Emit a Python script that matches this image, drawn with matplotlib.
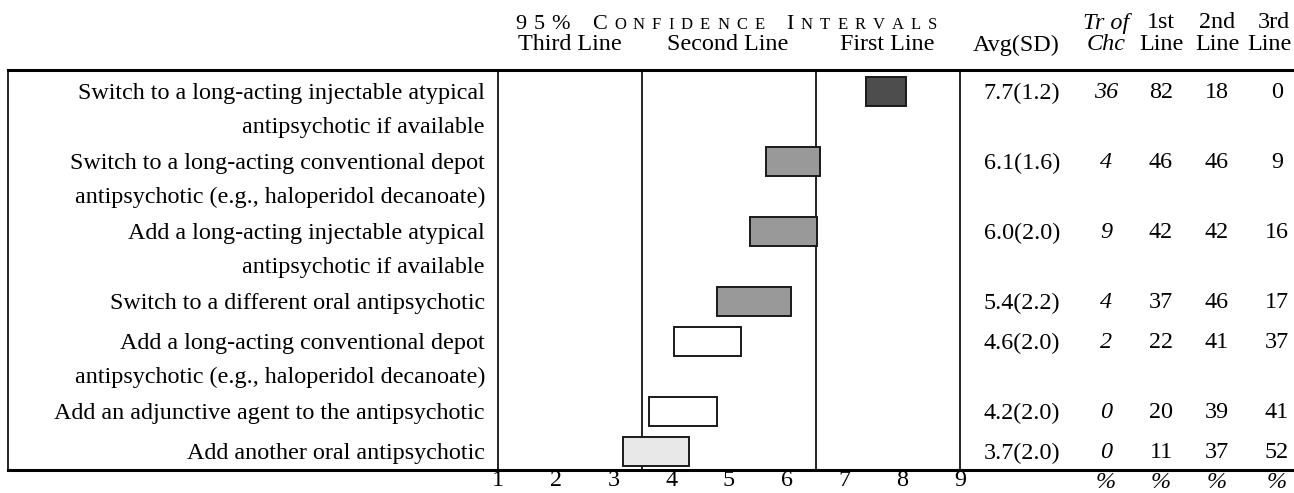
import numpy as np
import matplotlib
matplotlib.use('Agg')
from matplotlib import pyplot as plt
from matplotlib import transforms
from matplotlib.lines import Line2D

plt.rcParams['font.family'] = ['Liberation Serif', 'DejaVu Serif']

# rows of the table, label split in the printed lines
labels = [
    ["Switch to a long-acting injectable atypical", "antipsychotic if available"],
    ["Switch to a long-acting conventional depot", "antipsychotic (e.g., haloperidol decanoate)"],
    ["Add a long-acting injectable atypical", "antipsychotic if available"],
    ["Switch to a different oral antipsychotic"],
    ["Add a long-acting conventional depot", "antipsychotic (e.g., haloperidol decanoate)"],
    ["Add an adjunctive agent to the antipsychotic"],
    ["Add another oral antipsychotic"],
]
ci_low = [7.38, 5.64, 5.37, 4.79, 4.05, 3.61, 3.17]
ci_high = [8.07, 6.57, 6.53, 6.07, 5.21, 4.79, 4.31]
avg_sd = ["7.7(1.2)", "6.1(1.6)", "6.0(2.0)", "5.4(2.2)", "4.6(2.0)", "4.2(2.0)", "3.7(2.0)"]
tr_of_chc = [36, 4, 9, 4, 2, 0, 0]
first_line = [82, 46, 42, 37, 22, 20, 11]
second_line = [18, 46, 42, 46, 41, 39, 37]
third_line = [0, 9, 16, 17, 37, 41, 52]
bar_colors = ['#4d4d4d', '#999999', '#999999', '#999999', 'white', 'white', '#e8e8e8']

W, H = 1294, 493
fs = 17.4

fig = plt.figure(figsize=(W / 100, H / 100), dpi=100)
ax = fig.add_axes([497.8 / W, (H - 470) / H, (960 - 497.8) / W, 400 / H])
ax.set_xlim(1, 9)
ax.set_ylim(470, 70)  # y runs in pixel rows from the top

# row positions: 2-line rows take more room
row_y = []
y = 91
for lab in labels:
    row_y.append(y)
    y += 30 * len(lab) + 10

ax.barh(row_y, np.array(ci_high) - np.array(ci_low), left=ci_low, height=29,
        color=bar_colors, edgecolor='#1a1a1a', linewidth=1.4, zorder=3)
ax.axvline(3.5, color='black', lw=1.2, zorder=1)
ax.axvline(6.5, color='black', lw=1.2, zorder=1)

for s in ['top', 'bottom']:
    ax.spines[s].set_visible(False)
for s in ['left', 'right']:
    ax.spines[s].set_linewidth(1.2)
ax.set_yticks([])
ax.set_xticks(range(1, 10))
ax.tick_params(axis='x', length=0, pad=0, labelsize=fs)

# table frame
for yy in [70, 470]:
    fig.add_artist(Line2D([8 / W, 1], [(H - yy) / H] * 2, lw=2.2, color='black'))
fig.add_artist(Line2D([8 / W] * 2, [(H - 470) / H, (H - 70) / H], lw=1.2, color='black'))

tr = transforms.blended_transform_factory(fig.transFigure, ax.transData)

def put(x, y, s, ha='center', style='normal', size=fs):
    ax.text(x / W, y, s, transform=tr, ha=ha, va='center', fontsize=size,
            fontstyle=style, clip_on=False)

# row labels and table values
col_x = [1106, 1161, 1217, 1277]
for i, lab in enumerate(labels):
    for k, line in enumerate(lab):
        put(485, row_y[i] + 34 * k + 2, line, ha='right')
    put(1060, row_y[i] + 2, avg_sd[i], ha='right')
    put(col_x[0], row_y[i] + 2, str(tr_of_chc[i]), style='italic')
    put(col_x[1], row_y[i] + 2, str(first_line[i]))
    put(col_x[2], row_y[i] + 2, str(second_line[i]))
    put(col_x[3], row_y[i] + 2, str(third_line[i]))

# headers
put(570, 45, "Third Line")
put(728, 45, "Second Line")
put(887, 45, "First Line")
put(1060, 45, "Avg(SD)", ha='right')
put(col_x[0], 23, "Tr of", style='italic')
put(col_x[0], 45, "Chc", style='italic')
put(col_x[1], 23, "1st")
put(col_x[2], 23, "2nd")
put(col_x[3] - 3, 23, "3rd")
put(col_x[1], 45, "Line")
put(col_x[2], 45, "Line")
put(1292, 45, "Line", ha='right')  # last column sits at the page edge
for cx in col_x:
    put(cx, 482, "%", style='italic')

# small caps title with letter spacing
parts = [("95%", 16), (" ", 16), ("C", 16), ("ONFIDENCE", 12), (" ", 16), ("I", 16), ("NTERVALS", 12)]
renderer = fig.canvas.get_renderer()
chars = []
for txt, size in parts:
    for ch in txt:
        t = fig.text(0, (H - 29) / H, ch, fontsize=size, ha='left', va='baseline')
        chars.append(t)
widths = [c.get_window_extent(renderer).width if c.get_text() != " " else 8 for c in chars]
span = 937 - 515
track = (span - sum(widths)) / (len(chars) - 1)
xc = 515
for c, w in zip(chars, widths):
    c.set_x(xc / W)
    xc += w + track

fig.savefig('out.png', dpi=100)
